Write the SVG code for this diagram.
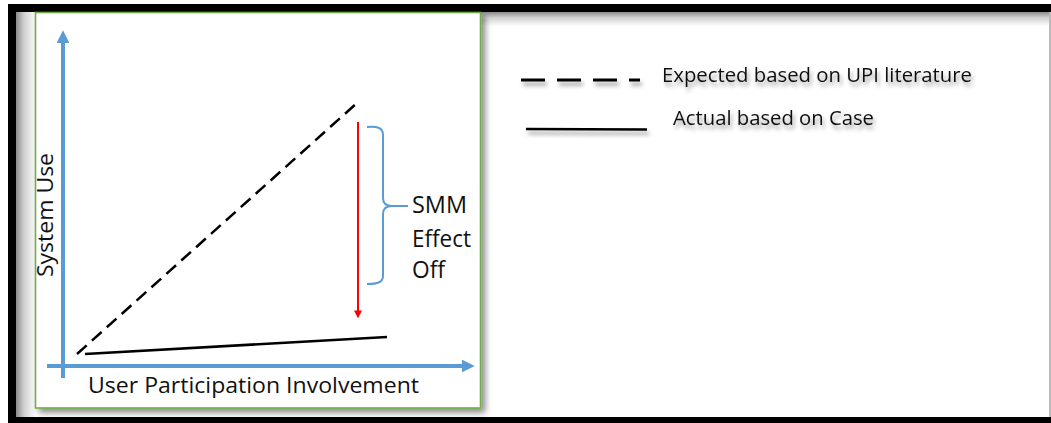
<svg xmlns="http://www.w3.org/2000/svg" width="1051" height="423" viewBox="0 0 1051 423">
  <style>
    .lbl { font-family: "Open Sans", "Liberation Sans", sans-serif; fill: #111; }
    .axis { stroke: #5B9BD5; stroke-width: 4; fill: none; }
    .ink { stroke: #000; stroke-width: 2.5; fill: none; }
  </style>
  <defs>
    <linearGradient id="shL" x1="0" y1="0" x2="1" y2="0">
      <stop offset="0" stop-color="#8a8a8a"/>
      <stop offset="0.4" stop-color="#d0d0d0"/>
      <stop offset="1" stop-color="#ffffff"/>
    </linearGradient>
    <linearGradient id="shT" x1="0" y1="0" x2="0" y2="1">
      <stop offset="0" stop-color="#8a8a8a"/>
      <stop offset="0.4" stop-color="#d0d0d0"/>
      <stop offset="1" stop-color="#ffffff"/>
    </linearGradient>
    <filter id="boxShadow" x="-10%" y="-10%" width="130%" height="130%">
      <feDropShadow dx="4" dy="4" stdDeviation="3" flood-color="#000" flood-opacity="0.45"/>
    </filter>
    <filter id="txtShadow" x="-10%" y="-50%" width="130%" height="250%">
      <feDropShadow dx="2" dy="4" stdDeviation="2" flood-color="#000" flood-opacity="0.4"/>
    </filter>
    <marker id="blueHead" viewBox="0 0 12 12" refX="2" refY="6" markerWidth="3.2" markerHeight="3.2" orient="auto" markerUnits="strokeWidth">
      <path d="M0,0 L12,6 L0,12 Z" fill="#5B9BD5"/>
    </marker>
    <marker id="redHead" viewBox="0 0 10 10" refX="2" refY="5" markerWidth="4" markerHeight="4.5" orient="auto" markerUnits="strokeWidth">
      <path d="M0,0 L10,5 L0,10 Z" fill="#FF0000"/>
    </marker>
  </defs>

  <!-- frame -->
  <g id="frame">
    <rect x="0" y="0" width="1051" height="423" fill="#ffffff"/>
    <rect x="8" y="4" width="1043" height="419" fill="#000"/>
    <rect x="16" y="12" width="1035" height="405" fill="#ffffff"/>
    <rect x="16" y="12" width="1035" height="14" fill="url(#shT)"/>
    <rect x="16" y="12" width="20" height="405" fill="url(#shL)"/>
    <rect x="1049" y="12" width="2" height="405" fill="#bbb"/>
  </g>

  <!-- chart panel -->
  <g id="panel">
    <rect x="35.5" y="12.5" width="445" height="395.5" fill="#ffffff" stroke="#70AD47" stroke-width="1.6" filter="url(#boxShadow)"/>
  </g>

  <g id="connectors">
    <!-- axes -->
    <line class="axis" x1="63" y1="378" x2="63" y2="41" marker-end="url(#blueHead)"/>
    <line class="axis" x1="47" y1="366" x2="464" y2="366" marker-end="url(#blueHead)"/>
    <!-- expected dashed line -->
    <line class="ink" x1="77" y1="354" x2="357" y2="103" stroke-dasharray="13 7"/>
    <!-- actual solid line -->
    <line class="ink" x1="85" y1="354" x2="387" y2="337"/>
    <!-- red drop arrow -->
    <line x1="358" y1="122" x2="358" y2="312" stroke="#FF0000" stroke-width="2" marker-end="url(#redHead)"/>
    <!-- brace -->
    <path d="M367,127 C378,126 383,128 383,135 L383,198 C383,203 386,206 392,206 L408,206 M392,206 C386,206 383,209 383,214 L383,276 C383,282 378,284 367,284" stroke="#5B9BD5" stroke-width="2" fill="none"/>
  </g>

  <g id="axis-labels">
    <text class="lbl" x="88" y="393" font-size="22" textLength="331" lengthAdjust="spacingAndGlyphs">User Participation Involvement</text>
    <text class="lbl" transform="translate(53,277) rotate(-90)" x="0" y="0" font-size="22" textLength="124" lengthAdjust="spacingAndGlyphs">System Use</text>
  </g>

  <g id="smm-label">
    <text class="lbl" x="412" y="213" font-size="23" textLength="55" lengthAdjust="spacingAndGlyphs">SMM</text>
    <text class="lbl" x="412" y="247" font-size="23" textLength="59" lengthAdjust="spacingAndGlyphs">Effect</text>
    <text class="lbl" x="412" y="278" font-size="23" textLength="33" lengthAdjust="spacingAndGlyphs">Off</text>
  </g>

  <g id="legend" filter="url(#txtShadow)">
    <line x1="521" y1="80" x2="640" y2="80" stroke="#000" stroke-width="3" stroke-dasharray="24 12"/>
    <text class="lbl" x="662" y="82" font-size="19.5" textLength="310" lengthAdjust="spacingAndGlyphs">Expected based on UPI literature</text>
    <line x1="526" y1="129" x2="647" y2="129.5" stroke="#000" stroke-width="2.5"/>
    <text class="lbl" x="673" y="125" font-size="19.5" textLength="201" lengthAdjust="spacingAndGlyphs">Actual based on Case</text>
  </g>
</svg>
